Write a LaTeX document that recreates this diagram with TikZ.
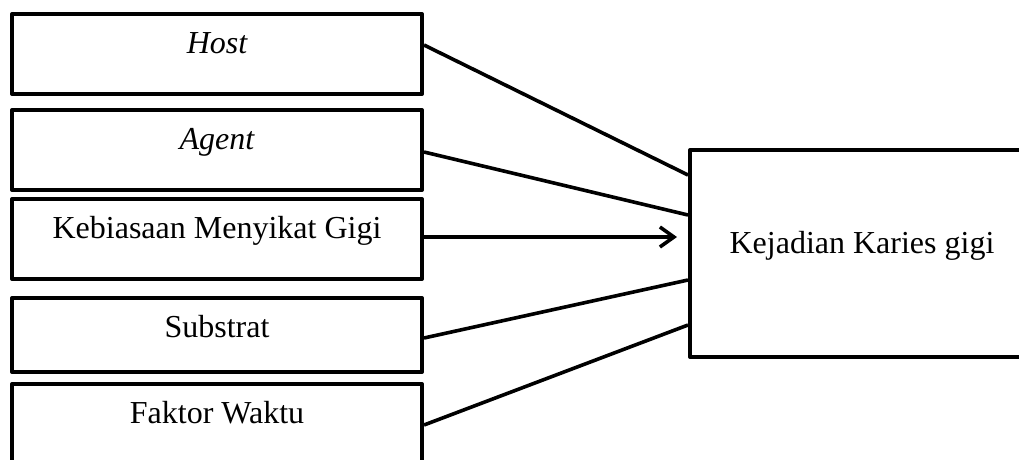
\documentclass[tikz,border=0pt]{standalone}
\usepackage{fontspec}
\setmainfont{Liberation Serif}
\usetikzlibrary{arrows.meta}
\begin{document}
\begin{tikzpicture}[x=1pt,y=-1pt,
  box/.style={draw=black, line width=4pt, line join=round, rectangle, minimum width=410pt, inner sep=0pt},
  lbl/.style={anchor=base, font=\fontsize{32}{38}\selectfont},
  conn/.style={draw=black, line width=3.6pt}]
\useasboundingbox (0,0) rectangle (1019,459);
\begin{scope}
\clip (0,0) rectangle (1019,459);
\node[box, minimum height=80pt] (b1) at (217,54) {};
\node[box, minimum height=80pt] (b2) at (217,150) {};
\node[box, minimum height=80pt] (b3) at (217,239) {};
\node[box, minimum height=74pt] (b4) at (217,335) {};
\node[box, minimum height=84pt] (b5) at (217,426) {};
\node[box, minimum width=344pt, minimum height=207pt] (kk) at (862,253.5) {};
\end{scope}
\node[lbl] (t1) at ([yshift=-41.5pt]b1.north) {\itshape Host};
\node[lbl] (t2) at ([yshift=-41.5pt]b2.north) {\itshape Agent};
\node[lbl] (t3) at ([yshift=-41.5pt]b3.north) {Kebiasaan Menyikat Gigi};
\node[lbl] (t4) at ([yshift=-41.5pt]b4.north) {Substrat};
\node[lbl] (t5) at ([yshift=-41.5pt]b5.north) {Faktor Waktu};
\node[lbl] (tk) at (kk.center) {Kejadian Karies gigi};
\coordinate (tip) at (677,237);
\draw[conn] ([yshift=9pt]b1.east) -- ([yshift=78.5pt]kk.west);
\draw[conn] ([yshift=-2pt]b2.east) -- ([yshift=38.5pt]kk.west);
\draw[conn, -{Straight Barb[length=14pt,width=20pt]}] ([yshift=2pt]b3.east) -- (tip);
\draw[conn] ([yshift=-3pt]b4.east) -- ([yshift=-26.5pt]kk.west);
\draw[conn] ([yshift=1pt]b5.east) -- ([yshift=-71.5pt]kk.west);
\end{tikzpicture}
\end{document}
